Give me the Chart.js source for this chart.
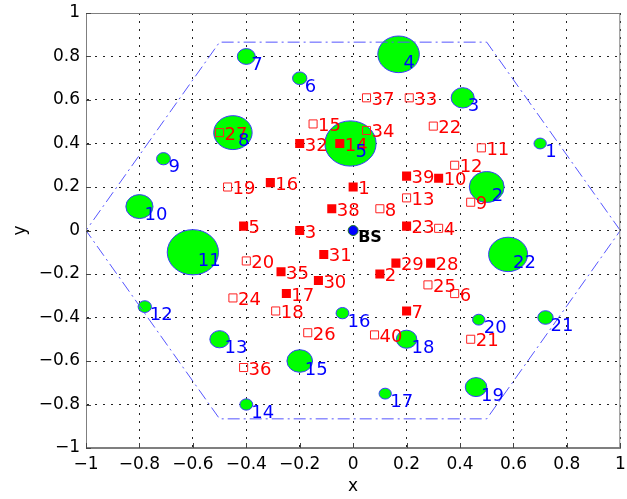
<!DOCTYPE html>
<html lang="en">
<head>
<meta charset="UTF-8">
<title>BS, coverage circles and users</title>
<script src="https://cdn.jsdelivr.net/npm/chart.js@4/dist/chart.umd.min.js"></script>
<style>
    body { margin: 0; background: #fff; }
    canvas { display: block; }
</style>
</head>
<body>
<canvas id="chart" width="627" height="499"></canvas>
<script>
// green coverage circles (blue labels 1..22)
const circleX = [0.70, 0.50, 0.41, 0.17, -0.01, -0.20, -0.40, -0.45, -0.71, -0.80, -0.60,
                 -0.78, -0.50, -0.40, -0.20, -0.04, 0.12, 0.20, 0.46, 0.47, 0.72, 0.58];
const circleY = [0.40, 0.20, 0.61, 0.81, 0.40, 0.70, 0.80, 0.45, 0.33, 0.11, -0.10,
                 -0.35, -0.50, -0.80, -0.60, -0.38, -0.75, -0.50, -0.72, -0.41, -0.40, -0.11];
const circleR = [0.024, 0.068, 0.045, 0.081, 0.10, 0.028, 0.035, 0.075, 0.027, 0.053, 0.10,
                 0.026, 0.038, 0.025, 0.050, 0.025, 0.024, 0.040, 0.042, 0.024, 0.030, 0.076];

// users (red labels 1..40), filled = 1 for solid square
const userX = [0.00, 0.10, -0.20, 0.32, -0.41, 0.38, 0.20, 0.10, 0.44, 0.32,
               0.48, 0.38, 0.20, -0.05, -0.15, -0.31, -0.25, -0.29, -0.47, -0.40,
               0.44, 0.30, 0.20, -0.45, 0.28, -0.17, -0.50, 0.29, 0.16, -0.13,
               -0.11, -0.20, 0.21, 0.05, -0.27, -0.41, 0.05, -0.08, 0.20, 0.08];
const userY = [0.20, -0.20, 0.00, 0.01, 0.02, -0.29, -0.37, 0.10, 0.13, 0.24,
               0.38, 0.30, 0.15, 0.40, 0.49, 0.22, -0.29, -0.37, 0.20, -0.14,
               -0.50, 0.48, 0.02, -0.31, -0.25, -0.47, 0.45, -0.15, -0.15, -0.23,
               -0.11, 0.40, 0.61, 0.46, -0.19, -0.63, 0.61, 0.10, 0.25, -0.48];
const userFilled = [1, 1, 1, 0, 1, 0, 1, 0, 0, 1,
                    0, 0, 0, 1, 0, 1, 1, 0, 0, 0,
                    0, 0, 1, 0, 0, 0, 0, 1, 1, 1,
                    1, 1, 0, 0, 1, 0, 0, 1, 1, 0];

// cell border and base station
const hexX = [1, 0.5, -0.5, -1, -0.5, 0.5, 1];
const hexY = [0, 0.866, 0.866, 0, -0.866, -0.866, 0];
const bsX = [0];
const bsY = [0];

const tickMin = -1, tickMax = 1, tickStep = 0.2;

Chart.defaults.font.family = '"DejaVu Sans", sans-serif';
Chart.defaults.color = '#000';

function pts(xs, ys, keep) {
    const out = [];
    xs.forEach((v, i) => { if (!keep || keep(i)) out.push({ x: v, y: ys[i], n: i + 1 }); });
    return out;
}

const overlay = {
    id: 'overlay',
    beforeDatasetsDraw(chart) {
        const { ctx, chartArea: a, scales: { x, y } } = chart;
        ctx.save();
        ctx.beginPath();
        ctx.rect(a.left, a.top, a.right - a.left, a.bottom - a.top);
        ctx.clip();
        circleX.forEach((cx, i) => {
            const px = x.getPixelForValue(cx);
            const py = y.getPixelForValue(circleY[i]);
            const rx = x.getPixelForValue(cx + circleR[i] * 0.96) - px;
            const ry = py - y.getPixelForValue(circleY[i] + circleR[i] * 1.04);
            ctx.beginPath();
            ctx.ellipse(px, py, rx, ry, 0, 0, Math.PI * 2);
            ctx.fillStyle = '#00ff00';
            ctx.fill();
            ctx.lineWidth = 1;
            ctx.strokeStyle = '#3a3aff';
            ctx.stroke();
        });
        ctx.restore();
    },
    afterDatasetsDraw(chart) {
        const { ctx, scales: { x, y } } = chart;
        ctx.save();
        ctx.textAlign = 'left';
        ctx.textBaseline = 'alphabetic';
        ctx.font = '18px "DejaVu Sans"';
        ctx.fillStyle = '#ff0000';
        userX.forEach((ux, i) => {
            ctx.fillText(String(i + 1), x.getPixelForValue(ux) + 5, y.getPixelForValue(userY[i]) + 7);
        });
        ctx.fillStyle = '#0000ff';
        circleX.forEach((cx, i) => {
            ctx.fillText(String(i + 1), x.getPixelForValue(cx) + 5, y.getPixelForValue(circleY[i]) + 13.5);
        });
        ctx.fillStyle = '#000';
        ctx.font = 'bold 16px "DejaVu Sans"';
        ctx.fillText('BS', x.getPixelForValue(bsX[0]) + 5, y.getPixelForValue(bsY[0]) + 11);
        ctx.restore();
    },
    afterDraw(chart) {
        const { ctx, chartArea: a, scales: { x, y } } = chart;
        ctx.save();
        ctx.strokeStyle = '#7f7f7f';
        ctx.lineWidth = 1;
        ctx.strokeRect(a.left + 0.5, a.top + 0.5, a.right - a.left - 1, a.bottom - a.top - 1);
        ctx.strokeStyle = '#444';
        ctx.beginPath();
        x.ticks.forEach(t => {
            const px = Math.round(x.getPixelForValue(t.value)) + 0.5;
            ctx.moveTo(px, a.bottom);
            ctx.lineTo(px, a.bottom - 5);
        });
        y.ticks.forEach(t => {
            const py = Math.round(y.getPixelForValue(t.value)) + 0.5;
            ctx.moveTo(a.left, py);
            ctx.lineTo(a.left + 5, py);
        });
        ctx.stroke();
        ctx.restore();
    }
};

function tickText(v) {
    return String(Math.round(v * 10) / 10).replace('-', '\u2212');
}

new Chart(document.getElementById('chart'), {
    type: 'scatter',
    data: {
        datasets: [
            {
                label: 'cell',
                data: pts(hexX, hexY),
                showLine: true,
                borderColor: '#5555ff',
                borderWidth: 1,
                borderDash: [12, 4, 2, 4],
                pointRadius: 0,
                fill: false,
                order: 1
            },
            {
                label: 'served users',
                data: pts(userX, userY, i => userFilled[i] === 1),
                pointStyle: 'rect',
                pointRadius: 6.4,
                backgroundColor: '#ff0000',
                borderWidth: 0,
                order: 0
            },
            {
                label: 'other users',
                data: pts(userX, userY, i => userFilled[i] === 0),
                pointStyle: 'rect',
                pointRadius: 5.7,
                backgroundColor: 'rgba(0,0,0,0)',
                borderColor: '#ff2020',
                borderWidth: 1,
                order: 0
            },
            {
                label: 'BS',
                data: pts(bsX, bsY),
                pointRadius: 5,
                backgroundColor: '#0000ff',
                borderColor: '#1f7a1f',
                borderWidth: 1,
                order: 0
            }
        ]
    },
    options: {
        responsive: false,
        devicePixelRatio: 1,
        animation: false,
        events: [],
        layout: { padding: { top: 13, right: 5, left: 0, bottom: 0 } },
        plugins: { legend: { display: false }, tooltip: { enabled: false } },
        scales: {
            x: {
                type: 'linear',
                min: tickMin,
                max: tickMax,
                ticks: { stepSize: tickStep, padding: 6, font: { size: 17 }, callback: tickText, maxRotation: 0 },
                grid: { color: '#222', lineWidth: 1, drawTicks: false },
                border: { color: '#7f7f7f', dash: [2, 6] },
                title: { display: true, text: 'x', font: { size: 17 }, padding: { top: 0, bottom: 2 } },
                afterFit: s => { s.height = 51; s.paddingLeft = 0; s.paddingRight = 0; }
            },
            y: {
                type: 'linear',
                min: tickMin,
                max: tickMax,
                ticks: { stepSize: tickStep, padding: 6, font: { size: 17 }, callback: tickText },
                grid: { color: '#222', lineWidth: 1, drawTicks: false },
                border: { color: '#7f7f7f', dash: [2, 6] },
                title: { display: true, text: 'y', font: { size: 17 }, padding: { top: 10, bottom: 0 } },
                afterFit: s => { s.width = 86; s.paddingTop = 0; s.paddingBottom = 0; }
            }
        }
    },
    plugins: [overlay]
});
</script>
</body>
</html>
